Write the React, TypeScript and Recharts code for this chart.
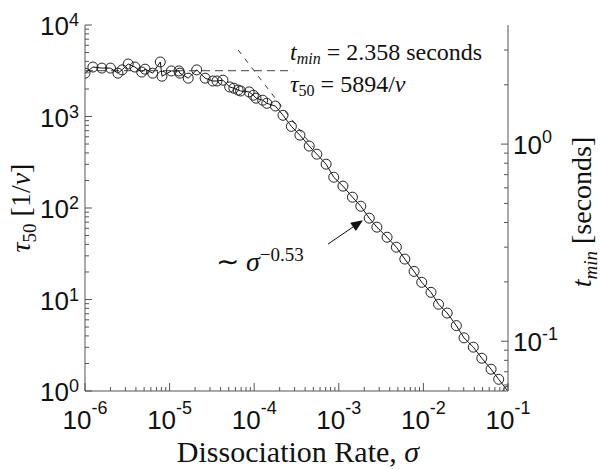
import { ComposedChart, Line, XAxis, YAxis, ReferenceLine } from 'recharts';

const sigma = [
  1.0e-6, 1.24e-6, 1.58e-6, 2.0e-6, 2.45e-6, 2.75e-6, 3.24e-6, 3.89e-6, 4.68e-6, 5.13e-6,
  6.31e-6, 7.76e-6, 8.13e-6, 1.05e-5, 1.29e-5, 1.32e-5, 1.66e-5, 2.09e-5, 2.63e-5, 3.24e-5,
  3.63e-5, 4.27e-5, 5.13e-5, 5.75e-5, 6.46e-5, 6.92e-5, 8.71e-5, 9.77e-5, 1.05e-4, 1.26e-4,
  1.41e-4, 1.78e-4, 2.19e-4, 2.75e-4, 3.47e-4, 4.47e-4, 5.5e-4, 7.08e-4, 8.71e-4, 1.12e-3,
  1.45e-3, 1.82e-3, 2.29e-3, 2.82e-3, 3.72e-3, 4.79e-3, 6.03e-3, 7.76e-3, 9.55e-3, 1.23e-2,
  1.51e-2, 1.91e-2, 2.45e-2, 3.02e-2, 3.89e-2, 4.9e-2, 6.31e-2, 7.76e-2, 1.0e-1,
];
const tMin = [
  2.29, 2.46, 2.43, 2.43, 2.29, 2.38, 2.55, 2.46, 2.32, 2.4,
  2.29, 2.61, 2.21, 2.35, 2.35, 2.29, 2.16, 2.38, 2.16, 2.09,
  2.09, 2.11, 1.95, 1.92, 1.88, 1.86, 1.84, 1.77, 1.71, 1.67,
  1.61, 1.56, 1.4, 1.23, 1.11, 0.977, 0.889, 0.791, 0.679, 0.612,
  0.538, 0.484, 0.421, 0.379, 0.337, 0.3, 0.261, 0.226, 0.199, 0.177,
  0.154, 0.139, 0.12, 0.104, 0.0933, 0.082, 0.0721, 0.0641, 0.0557,
];

const xTicks = [
  1e-6, 2e-6, 3e-6, 4e-6, 5e-6, 6e-6, 7e-6, 8e-6, 9e-6,
  1e-5, 2e-5, 3e-5, 4e-5, 5e-5, 6e-5, 7e-5, 8e-5, 9e-5,
  1e-4, 2e-4, 3e-4, 4e-4, 5e-4, 6e-4, 7e-4, 8e-4, 9e-4,
  1e-3, 2e-3, 3e-3, 4e-3, 5e-3, 6e-3, 7e-3, 8e-3, 9e-3,
  1e-2, 2e-2, 3e-2, 4e-2, 5e-2, 6e-2, 7e-2, 8e-2, 9e-2, 1e-1,
];
const tauTicks = [
  1, 2, 3, 4, 5, 6, 7, 8, 9,
  10, 20, 30, 40, 50, 60, 70, 80, 90,
  100, 200, 300, 400, 500, 600, 700, 800, 900,
  1000, 2000, 3000, 4000, 5000, 6000, 7000, 8000, 9000, 10000,
];
const tTicks = [0.06, 0.07, 0.08, 0.09, 0.1, 0.2, 0.3, 0.4, 0.5, 0.6, 0.7, 0.8, 0.9, 1, 2, 3];

const tPlateau = 2.358;
const plateauEnd = 2.9e-4;
const powerLaw = [
  { x: 6.46e-5, y: 3.0 },
  { x: 4.9e-4, y: 0.97 },
];
const arrowSeg = [
  { x: 7.45e-4, y: 0.311 },
  { x: 1.93e-3, y: 0.411 },
];

const data = sigma.map((s, i) => ({ sigma: s, t: tMin[i] }));

const AX = '#555';
const SANS = '"Liberation Sans", Arial, sans-serif';
const SERIF = '"Liberation Serif", "Times New Roman", serif';

const isMajor = (v: number) => Math.abs(Math.log10(v) - Math.round(Math.log10(v))) < 1e-6;
const expStr = (v: number) => {
  const e = Math.round(Math.log10(v));
  return e < 0 ? `-${-e}` : `${e}`;
};

function XTick(props: any) {
  const { x, y, payload } = props;
  const major = isMajor(payload.value);
  return (
    <g>
      <line x1={x} x2={x} y1={y} y2={y - (major ? 8 : 4)} stroke={AX} />
      {major && (
        <text x={x} y={y + 38} textAnchor="middle" fontFamily={SANS} fontSize={26} fill="#111">
          10<tspan dy={-15} fontSize={18}>{expStr(payload.value)}</tspan>
        </text>
      )}
    </g>
  );
}

function LeftTick(props: any) {
  const { x, y, payload } = props;
  const major = isMajor(payload.value);
  return (
    <g>
      <line x1={x} x2={x + (major ? 7 : 4)} y1={y} y2={y} stroke={AX} />
      {major && (
        <text x={x - 6} y={y + 10} textAnchor="end" fontFamily={SANS} fontSize={26} fill="#111">
          10<tspan dy={-9} fontSize={18}>{expStr(payload.value)}</tspan>
        </text>
      )}
    </g>
  );
}

function RightTick(props: any) {
  const { x, y, payload } = props;
  const major = isMajor(payload.value);
  return (
    <g>
      <line x1={x} x2={x - (major ? 7 : 4)} y1={y} y2={y} stroke={AX} />
      {major && (
        <text x={x + 5} y={y + 10} textAnchor="start" fontFamily={SANS} fontSize={26} fill="#111">
          10<tspan dy={-11} fontSize={18}>{expStr(payload.value)}</tspan>
        </text>
      )}
    </g>
  );
}

function Circle(props: any) {
  const { cx, cy } = props;
  if (cx == null || cy == null) return null;
  return <circle cx={cx} cy={cy} r={5} fill="none" stroke="#222" strokeWidth={1} />;
}

function Arrow(props: any) {
  const { x1, y1, x2, y2 } = props;
  const ang = Math.atan2(y2 - y1, x2 - x1);
  const len = 12;
  const w = 5;
  const bx = x2 - len * Math.cos(ang);
  const by = y2 - len * Math.sin(ang);
  const px = -Math.sin(ang) * w;
  const py = Math.cos(ang) * w;
  return (
    <g>
      <line x1={x1} y1={y1} x2={bx} y2={by} stroke="#111" strokeWidth={1} />
      <polygon points={`${x2},${y2} ${bx + px},${by + py} ${bx - px},${by - py}`} fill="#111" />
    </g>
  );
}

export default function App() {
  return (
    <div style={{ position: 'absolute', left: 0, top: 0, width: 600, height: 469, background: '#fff' }}>
      <ComposedChart width={600} height={469} data={data} margin={{ top: 25, right: 0, bottom: 0, left: 0 }}>
        <XAxis
          dataKey="sigma"
          type="number"
          scale="log"
          domain={[1e-6, 0.1]}
          allowDataOverflow
          ticks={xTicks}
          interval={0}
          tick={<XTick />}
          tickLine={false}
          tickSize={0}
          tickMargin={0}
          height={78}
          axisLine={{ stroke: AX }}
        />
        <XAxis xAxisId="top" orientation="top" type="number" scale="log" domain={[1e-6, 0.1]} allowDataOverflow dataKey="sigma" height={0} tick={false} tickLine={false} axisLine={{ stroke: AX }} />
        <YAxis
          yAxisId="left"
          type="number"
          scale="log"
          domain={[1, 10000]}
          allowDataOverflow
          ticks={tauTicks}
          interval={0}
          tick={<LeftTick />}
          tickLine={false}
          tickSize={0}
          tickMargin={0}
          width={85}
          axisLine={{ stroke: AX }}
        />
        <YAxis
          yAxisId="right"
          orientation="right"
          type="number"
          scale="log"
          domain={[0.0559, 4.02]}
          allowDataOverflow
          ticks={tTicks}
          interval={0}
          tick={<RightTick />}
          tickLine={false}
          tickSize={0}
          tickMargin={0}
          width={92}
          axisLine={{ stroke: AX }}
        />
        <ReferenceLine
          yAxisId="right"
          segment={[{ x: sigma[0], y: tPlateau }, { x: plateauEnd, y: tPlateau }]}
          stroke="#666"
          strokeWidth={1.3}
          strokeDasharray="8 5"
        />
        <ReferenceLine yAxisId="right" segment={powerLaw} stroke="#333" strokeWidth={1} strokeDasharray="5 6" />
        <ReferenceLine yAxisId="right" segment={arrowSeg} shape={(p: any) => <Arrow {...p} />} />
        <Line
          yAxisId="right"
          dataKey="t"
          type="linear"
          stroke="#111"
          strokeWidth={1}
          dot={<Circle />}
          activeDot={false}
          isAnimationActive={false}
        />
      </ComposedChart>
      <svg width={600} height={469} style={{ position: 'absolute', left: 0, top: 0, pointerEvents: 'none' }}>
        <text x={298} y={462} textAnchor="middle" fontFamily={SERIF} fontSize={30} fill="#111">
          Dissociation Rate, <tspan fontStyle="italic">σ</tspan>
        </text>
        <g transform="translate(30,208) rotate(-90)">
          <text x={0} y={0} textAnchor="middle" fontFamily={SERIF} fontSize={28} fill="#111">
            <tspan fontStyle="italic">τ</tspan>
            <tspan fontSize={19} dy={6}>50</tspan>
            <tspan dy={-6}> [1/</tspan>
            <tspan fontStyle="italic">ν</tspan>
            <tspan>]</tspan>
          </text>
        </g>
        <g transform="translate(591,212) rotate(-90)">
          <text x={0} y={0} textAnchor="middle" fontFamily={SERIF} fontSize={28} fill="#111">
            <tspan fontStyle="italic">t</tspan>
            <tspan fontSize={19} dy={6} fontStyle="italic">min</tspan>
            <tspan dy={-6}> [seconds]</tspan>
          </text>
        </g>
        <text x={290} y={60} fontFamily={SERIF} fontSize={24} fill="#111">
          <tspan fontStyle="italic">t</tspan>
          <tspan fontSize={16} dy={4} fontStyle="italic">min</tspan>
          <tspan dy={-4}> = 2.358 seconds</tspan>
        </text>
        <text x={290} y={92} fontFamily={SERIF} fontSize={24} fill="#111">
          <tspan fontStyle="italic">τ</tspan>
          <tspan fontSize={16} dy={4}>50</tspan>
          <tspan dy={-4}> = 5894/</tspan>
          <tspan fontStyle="italic">ν</tspan>
        </text>
        <text x={216} y={271} fontFamily={SERIF} fontSize={28} fill="#111">
          ∼ <tspan fontStyle="italic">σ</tspan>
          <tspan fontSize={19} dy={-10}>−0.53</tspan>
        </text>
      </svg>
    </div>
  );
}
